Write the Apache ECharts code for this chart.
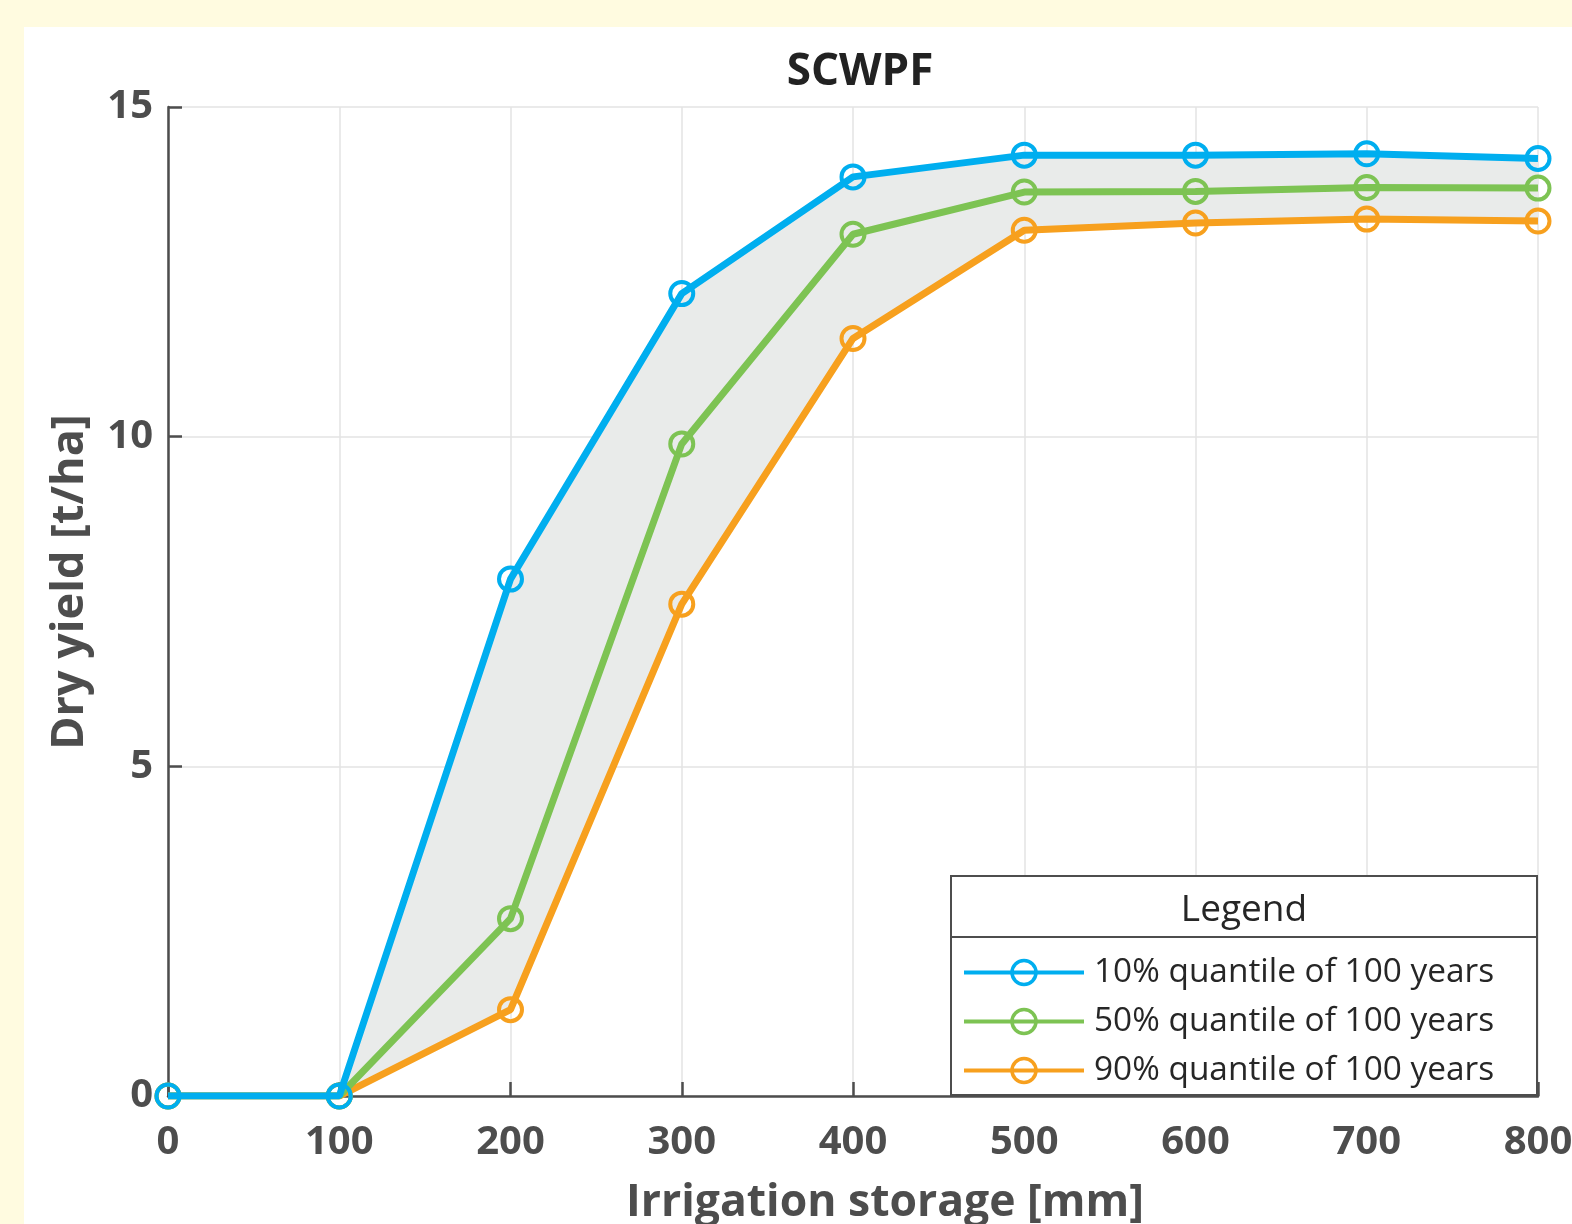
<!DOCTYPE html>
<html>
<head>
<meta charset="utf-8">
<script src="https://cdn.jsdelivr.net/npm/echarts@6/dist/echarts.min.js"></script>
<style>
  html, body { margin: 0; padding: 0; background: #fffbe0; }
  #chart { position: absolute; left: 24px; top: 27px; width: 1548px; height: 1197px; background: #ffffff; }
</style>
</head>
<body>
<div id="chart"></div>
<script>
// storage levels [mm]
var storage = [0, 100, 200, 300, 400, 500, 600, 700, 800];
// dry yield [t/ha] per quantile
var q10 = [0, 0, 7.84, 12.17, 13.94, 14.27, 14.27, 14.29, 14.22];
var q50 = [0, 0, 2.69, 9.89, 13.07, 13.71, 13.72, 13.78, 13.77];
var q90 = [0, 0, 1.31, 7.46, 11.49, 13.13, 13.24, 13.30, 13.27];
var seriesNames = ['10% quantile of 100 years', '50% quantile of 100 years', '90% quantile of 100 years'];
var colors = ['#00aeef', '#7dc353', '#f7a01e'];

function pairs(vals) {
  return storage.map(function (x, i) { return [x, vals[i]]; });
}

function lineSeries(name, vals, color, z) {
  return {
    name: name,
    type: 'line',
    data: pairs(vals),
    z: z,
    symbol: 'circle',
    symbolSize: 23,
    showAllSymbol: true,
    lineStyle: { color: color, width: 7 },
    itemStyle: { color: 'rgba(0,0,0,0)', borderColor: color, borderWidth: 4 },
    emphasis: { disabled: true },
    animation: false
  };
}

// grey band between the 10% and 90% quantiles
function renderBand(params, api) {
  var pts = [];
  for (var i = 0; i < storage.length; i++) pts.push(api.coord([storage[i], q10[i]]));
  for (var j = storage.length - 1; j >= 0; j--) pts.push(api.coord([storage[j], q90[j]]));
  return {
    type: 'polygon',
    shape: { points: pts },
    style: { fill: '#e9ebea' },
    silent: true
  };
}

var chart = echarts.init(document.getElementById('chart'));
var font = '"Open Sans", "Noto Sans", sans-serif';

chart.setOption({
  textStyle: { fontFamily: font },
  title: {
    text: 'SCWPF',
    left: 831,
    top: 18,
    textAlign: 'center',
    textStyle: { fontSize: 44, fontWeight: 'bold', color: '#222222', fontFamily: font }
  },
  grid: { left: 144, top: 80, right: 34, bottom: 128, outerBoundsMode: 'none' },
  xAxis: {
    type: 'value',
    min: 0, max: 800, interval: 100,
    name: 'Irrigation storage [mm]',
    nameLocation: 'middle',
    nameGap: 85,
    nameTextStyle: { fontSize: 44.5, fontWeight: 'bold', color: '#4d4d4d', padding: [0, 0, 0, 64] },
    axisLine: { show: true, onZero: false, lineStyle: { color: '#4d4d4d', width: 2.5 } },
    axisTick: { show: true, inside: true, length: 14, lineStyle: { color: '#4d4d4d', width: 2.5 } },
    axisLabel: { fontSize: 40, fontWeight: 'bold', color: '#4d4d4d', margin: 27 },
    splitLine: { show: true, lineStyle: { color: '#e3e3e3', width: 1.5 } }
  },
  yAxis: {
    type: 'value',
    min: 0, max: 15, interval: 5,
    name: 'Dry yield [t/ha]',
    nameLocation: 'middle',
    nameGap: 75,
    nameTextStyle: { fontSize: 45, fontWeight: 'bold', color: '#4d4d4d', padding: [0, 0, 0, 39] },
    axisLine: { show: true, lineStyle: { color: '#4d4d4d', width: 2.5 } },
    axisTick: { show: true, inside: true, length: 14, lineStyle: { color: '#4d4d4d', width: 2.5 } },
    axisLabel: { fontSize: 40, fontWeight: 'bold', color: '#4d4d4d', margin: 15, padding: [5, 0, 0, 0] },
    splitLine: { show: true, lineStyle: { color: '#e3e3e3', width: 1.5 } }
  },
  legend: {
    data: seriesNames,
    orient: 'vertical',
    left: 938,
    top: 929,
    padding: 0,
    itemWidth: 120,
    itemHeight: 30,
    itemGap: 16,
    selectedMode: false,
    lineStyle: { width: 4 },
    itemStyle: { borderWidth: 3.5 },
    textStyle: { fontSize: 33.4, lineHeight: 30, color: '#262626', fontFamily: font, padding: [0, 0, 0, 5] }
  },
  graphic: [
    {
      type: 'rect',
      shape: { x: 927, y: 849, width: 586, height: 219 },
      style: { fill: '#ffffff', stroke: '#4d4d4d', lineWidth: 2 },
      z: 4
    },
    {
      type: 'line',
      shape: { x1: 927, y1: 910, x2: 1513, y2: 910 },
      style: { stroke: '#4d4d4d', lineWidth: 2 },
      z: 4
    },
    {
      type: 'text',
      x: 1220, y: 883,
      style: { text: 'Legend', fontSize: 37, fill: '#262626', fontFamily: font, align: 'center', verticalAlign: 'middle' },
      z: 4
    }
  ],
  series: [
    {
      name: 'band', type: 'custom', data: [[0, 0]],
      renderItem: renderBand, silent: true, animation: false, z: 1
    },
    lineSeries(seriesNames[2], q90, colors[2], 2),
    lineSeries(seriesNames[1], q50, colors[1], 3),
    lineSeries(seriesNames[0], q10, colors[0], 4)
  ]
});
</script>
</body>
</html>
